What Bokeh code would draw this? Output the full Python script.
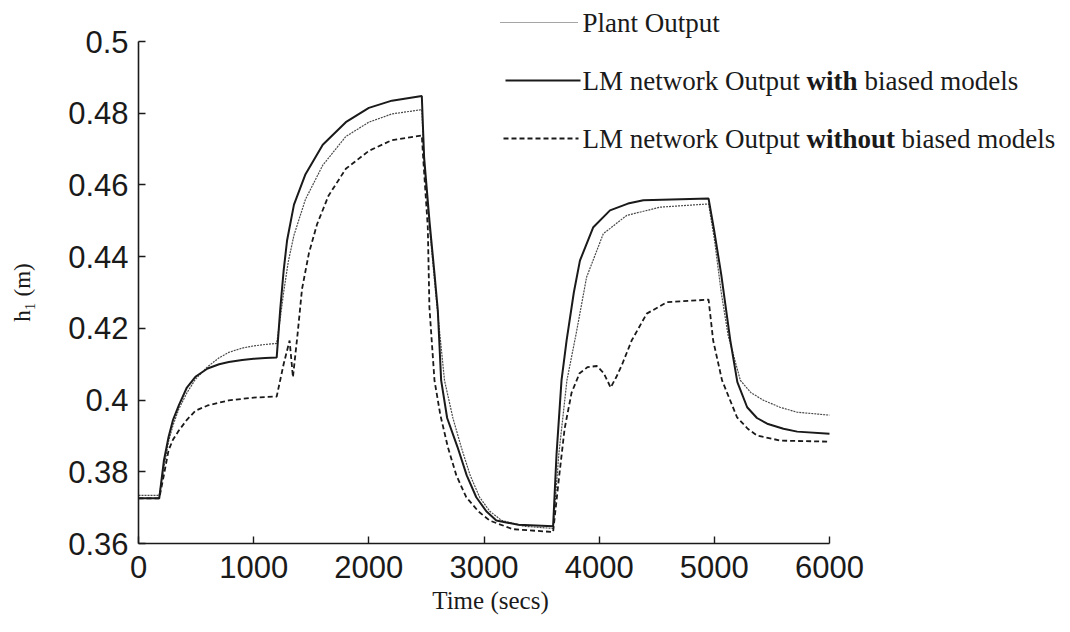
import math
from bokeh.plotting import figure
from bokeh.models import Label, FixedTicker, NumeralTickFormatter, Range1d
from bokeh.embed import file_html
from bokeh.resources import INLINE

# ---- data: liquid level h1 (m) against time (s) ----
t_plant = [0, 180, 220, 261, 300, 350, 420, 494, 600, 700, 784, 900, 1000, 1100, 1200,
           1230, 1260, 1300, 1350, 1450, 1600, 1800, 2000, 2200, 2460,
           2480, 2530, 2580, 2657, 2730, 2802, 2880, 2962, 3050, 3150, 3350, 3600,
           3650, 3720, 3803, 3891, 4036, 4239, 4530, 4950,
           5000, 5060, 5120, 5226, 5320, 5430, 5570, 5720, 6000]
h_plant = [0.3734, 0.3734, 0.3810, 0.3885, 0.3930, 0.3975, 0.4020, 0.4058, 0.4093, 0.4118,
           0.4133, 0.4145, 0.4151, 0.4155, 0.4158,
           0.4225, 0.4300, 0.4385, 0.4460, 0.4560, 0.4655, 0.4735, 0.4775, 0.4798, 0.4810,
           0.4660, 0.4470, 0.4300, 0.4055, 0.3950, 0.3869, 0.3790, 0.3729, 0.3690, 0.3665,
           0.3648, 0.3642,
           0.3850, 0.4055, 0.4190, 0.4343, 0.4464, 0.4515, 0.4538, 0.4547,
           0.4450, 0.4300, 0.4180, 0.4055, 0.4020, 0.3999, 0.3980, 0.3966, 0.3958]

t_with = [0, 180, 220, 261, 300, 350, 420, 494, 600, 700, 784, 900, 1000, 1100, 1200,
          1230, 1260, 1290, 1350, 1450, 1600, 1800, 2000, 2200, 2460,
          2480, 2526, 2570, 2599, 2628, 2680, 2770, 2850, 2933, 3020, 3107, 3300, 3600,
          3630, 3673, 3717, 3780, 3833, 3949, 4094, 4250, 4384, 4950,
          5000, 5060, 5139, 5200, 5285, 5370, 5459, 5600, 5720, 6000]
h_with = [0.3726, 0.3726, 0.3830, 0.3897, 0.3945, 0.3985, 0.4035, 0.4065, 0.4088, 0.4100,
          0.4106, 0.4112, 0.4115, 0.4117, 0.4119,
          0.4250, 0.4360, 0.4445, 0.4545, 0.4630, 0.4712, 0.4775, 0.4815, 0.4835, 0.4848,
          0.4677, 0.4501, 0.4353, 0.4250, 0.4055, 0.3950, 0.3869, 0.3790, 0.3729, 0.3690,
          0.3664, 0.3652, 0.3648,
          0.3850, 0.4055, 0.4166, 0.4300, 0.4389, 0.4482, 0.4529, 0.4548, 0.4557, 0.4562,
          0.4470, 0.4350, 0.4166, 0.4050, 0.3980, 0.3950, 0.3934, 0.3920, 0.3912, 0.3906]

t_without = [0, 180, 220, 261, 300, 350, 420, 494, 600, 784, 1000, 1200,
             1260, 1312, 1341, 1380, 1420, 1480, 1550, 1650, 1800, 2000, 2200, 2460,
             2475, 2512, 2526, 2570, 2620, 2686, 2760, 2846, 2950, 3049, 3250, 3600,
             3650, 3700, 3760, 3830, 3900, 3980, 4040, 4100, 4150, 4200, 4282, 4413, 4588,
             4950,
             4990, 5067, 5197, 5290, 5371, 5575, 6000]
h_without = [0.3726, 0.3726, 0.3790, 0.3860, 0.3890, 0.3915, 0.3945, 0.3970, 0.3985, 0.3999,
             0.4007, 0.4010,
             0.4100, 0.4166, 0.4064, 0.4180, 0.4310, 0.4410, 0.4490, 0.4570, 0.4645, 0.4695,
             0.4725, 0.4738,
             0.4660, 0.4482, 0.4259, 0.4055, 0.3960, 0.3869, 0.3790, 0.3729, 0.3690, 0.3664,
             0.3640, 0.3632,
             0.3780, 0.3920, 0.4020, 0.4075, 0.4092, 0.4095, 0.4075, 0.4035, 0.4065, 0.4100,
             0.4166, 0.4241, 0.4273,
             0.4280,
             0.4166, 0.4055, 0.3952, 0.3920, 0.3901, 0.3887, 0.3884]

x_ticks = [0, 1000, 2000, 3000, 4000, 5000, 6000]
y_ticks = [0.36, 0.38, 0.40, 0.42, 0.44, 0.46, 0.48, 0.50]

legend_labels = ["Plant Output",
                 ("LM network Output", "with", "biased models"),
                 ("LM network Output", "without", "biased models")]

# ---- layout: the frame spans the whole canvas, axes sit at fixed data locations ----
W, H = 1070, 632
AX_L, AX_R, AX_T, AX_B = 138, 829, 41, 543     # pixel extent of the axes box
X0, X1, Y0, Y1 = 0, 6000, 0.36, 0.50
kx = (X1 - X0) / (AX_R - AX_L)
ky = (Y1 - Y0) / (AX_B - AX_T)


def dx(px):
    return X0 + (px - AX_L) * kx


def dy(py):
    return Y1 - (py - AX_T) * ky


p = figure(width=W, height=H, output_backend="svg", toolbar_location=None,
           x_range=Range1d(dx(0), dx(W)), y_range=Range1d(dy(H), dy(0)),
           min_border=0, min_border_left=0, min_border_right=0,
           min_border_top=0, min_border_bottom=0)
p.outline_line_color = None
p.grid.visible = False
p.background_fill_color = "white"
p.border_fill_color = "white"

INK = "#1a1a1a"
PLANT_COL = "#4a4a4a"
p.line(t_plant, h_plant, line_color=PLANT_COL, line_width=1.2, line_dash="2 1")
p.line(t_with, h_with, line_color=INK, line_width=2.0)
p.line(t_without, h_without, line_color=INK, line_width=1.8, line_dash="5 3")

xa, ya = p.xaxis[0], p.yaxis[0]
xa.fixed_location = Y0
ya.fixed_location = X0
xa.bounds = (X0, X1)
ya.bounds = (Y0, Y1)
for ax in (xa, ya):
    ax.axis_line_color = INK
    ax.axis_line_width = 1.6
    ax.major_tick_line_color = INK
    ax.major_tick_line_width = 1.4
    ax.major_tick_in = 7
    ax.major_tick_out = 0
    ax.minor_tick_line_color = None
    ax.major_label_text_font = "Liberation Sans"
    ax.major_label_text_font_size = "31px"
    ax.major_label_text_color = INK
xa.ticker = FixedTicker(ticks=x_ticks)
ya.ticker = FixedTicker(ticks=y_ticks)
xa.formatter = NumeralTickFormatter(format="0")
ya.formatter = NumeralTickFormatter(format="0.[00]")
xa.major_label_standoff = 12
ya.major_label_standoff = 10

# axis titles
p.add_layout(Label(x=dx(490), y=dy(600), text="Time (secs)", text_font="Liberation Serif",
                   text_font_size="25px", text_color=INK, text_align="center",
                   text_baseline="middle"))
p.add_layout(Label(x=dx(22), y=dy(292), text="h\u2081 (m)", angle=math.pi / 2,
                   text_font="Liberation Serif", text_font_size="23px", text_color=INK,
                   text_align="center", text_baseline="middle"))

# legend: line samples and texts
rows = [(22, "1 1", 1.2, PLANT_COL, 500, 578),
        (80, "solid", 2.0, INK, 505, 580),
        (138, "5 3", 1.8, INK, 503, 578)]
TXT_X = 582
FS = "27px"
for (py, dash, lw, col, xa_px, xb_px), lab in zip(rows, legend_labels):
    p.line([dx(xa_px), dx(xb_px)], [dy(py), dy(py)], line_color=col, line_width=lw,
           line_dash=dash)
    if isinstance(lab, str):
        parts = [(lab, "normal", 0)]
    else:
        pre, bold, post = lab
        bold_w = 51 if bold == "with" else 88
        parts = [(pre, "normal", 0), (bold, "bold", 224),
                 (post, "normal", 224 + bold_w + 7)]
    for text, style, off in parts:
        p.add_layout(Label(x=dx(TXT_X), y=dy(py), x_offset=off, text=text,
                           text_font="Liberation Serif", text_font_size=FS,
                           text_font_style=style, text_color=INK,
                           text_baseline="middle", text_align="left"))

open("out.html", "w").write(file_html(p, INLINE))
